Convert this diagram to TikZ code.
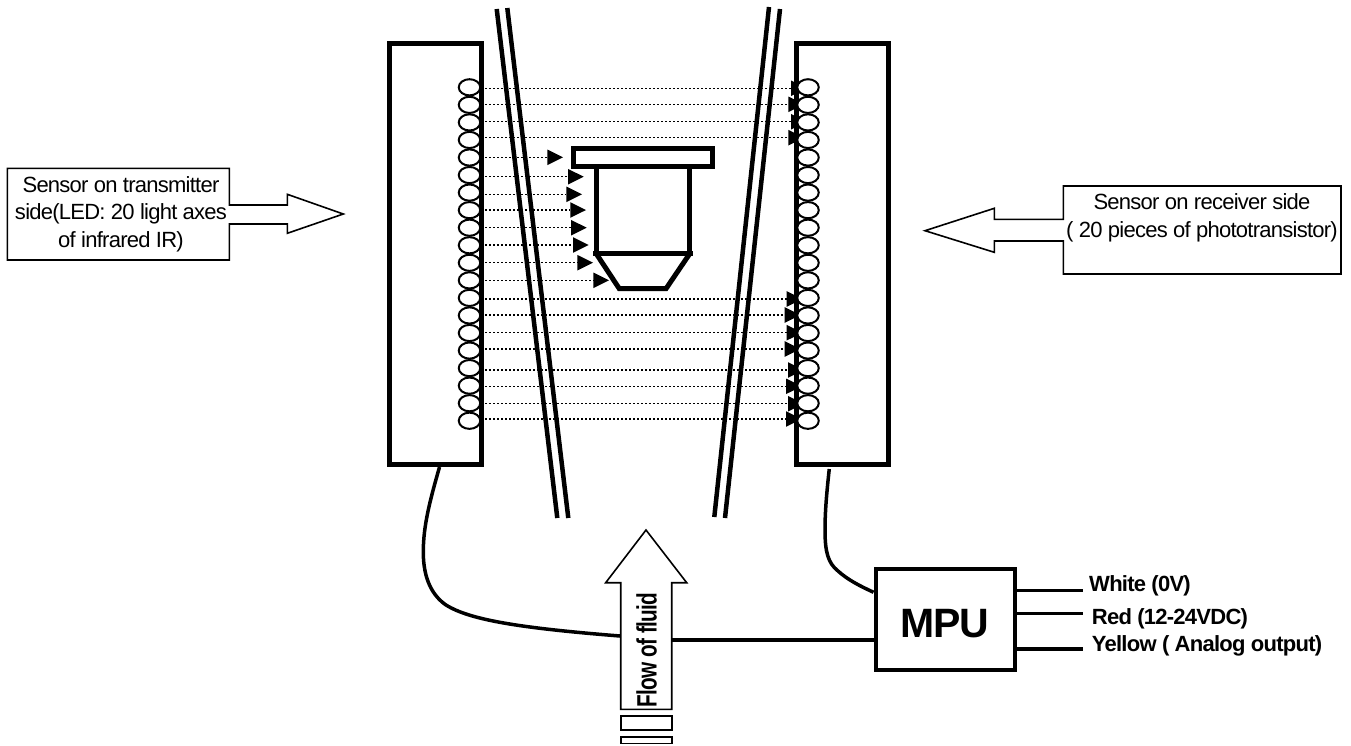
\documentclass[tikz,border=0pt]{standalone}
\usepackage{fontspec}
\setmainfont{Liberation Sans}[LetterSpace=-3.4]
\usetikzlibrary{shapes.geometric,calc}
\pgfdeclarelayer{bg}
\pgfsetlayers{bg,main}
\tikzset{
  sensorbox/.style={draw,line width=5pt,fill=white,inner sep=0pt,minimum width=92pt,minimum height=421.5pt},
  led/.style={draw,ellipse,line width=2pt,fill=white,inner sep=0pt,minimum width=21.5pt,minimum height=16.2pt},
  ray/.style={line width=1.5pt,dash pattern=on 1.5pt off 2.5pt},
  hitmark/.style={fill=black,draw=none},
  wall/.style={line width=4.5pt},
  part/.style={line width=5pt,fill=white,line join=miter},
  callout/.style={draw,line width=1.6pt,fill=white,line join=miter},
  cable/.style={line width=3.5pt},
  wire/.style={line width=3.5pt},
  plain/.style={font=\fontsize{22}{27.5}\selectfont,align=center,inner sep=0pt},
  strong/.style={font=\fontsize{22}{27.5}\selectfont\bfseries,inner sep=0pt,anchor=base west}
}
\begin{document}
\begin{tikzpicture}[x=1pt,y=-1pt]
\useasboundingbox (0,0) rectangle (1351,745);

% sensor housings and LEDs / phototransistors
\node[sensorbox] (ltx) at (435.5,253.75) {};
\node[sensorbox,minimum width=91.5pt] (rrx) at (842.25,253.75) {};
\foreach \n in {1,...,20}{
  \pgfmathsetmacro{\ly}{87.3+17.55*(\n-1)}
  \node[led] (tx\n) at (469.5,\ly) {};
  \node[led] (rx\n) at (808,\ly) {};
}

% light axes
\begin{pgfonlayer}{bg}
\foreach \yy/\bb [count=\n] in {88.3/791,104.3/788.3,121.7/791,137.7/788.3,157.3/547.3,176.7/568,194.3/566.3,210/570.3,227.7/571,245/573,262.7/577.3,280.3/593.3,299/786.7,315/784.7,332.7/786.7,349/784.7,370/788,386.3/786,403.7/788,419/786}{
  \coordinate (hit\n) at (\bb,\yy);
  \draw[ray] (tx\n.east |- hit\n) -- (hit\n);
  \fill[hitmark] ($(hit\n)+(0,-7.8)$) -- ($(hit\n)+(15.7,0)$) -- ($(hit\n)+(0,7.8)$) -- cycle;
}
% pipe walls
\draw[wall] (496.7,9) -- (557.3,518);
\draw[wall] (507.3,8) -- (568.3,518);
\draw[wall] (769,7) -- (714.3,517);
\draw[wall] (780,9) -- (725,518);
\end{pgfonlayer}

% workpiece
\draw[part] (596.7,166) -- (596.7,253.3) -- (689,253.3) -- (689,166) -- cycle;
\draw[part] (573.5,148.5) rectangle (712,166);
\draw[part] (596,253.3) -- (619.3,288.7) -- (666,288.7) -- (690,253.3);
\draw[line width=5pt] (593,253.3) -- (692.7,253.3);

% transmitter callout
\draw[callout] (7.3,168.3) -- (229.3,168.3) -- (229.3,205) -- (287.3,205) -- (287.3,194.3) -- (343.3,214) -- (287.3,233.3) -- (287.3,224) -- (229.3,224) -- (229.3,260) -- (7.3,260) -- cycle;
\node[plain] (txtext) at (121,214) {Sensor on transmitter\\side(LED: 20 light axes\\of infrared IR)};

% receiver callout
\draw[callout] (1341,186) -- (1063.3,186) -- (1063.3,219.3) -- (994.3,219.3) -- (994.3,208.3) -- (925,230.7) -- (994.3,252.3) -- (994.3,241) -- (1063.3,241) -- (1063.3,274) -- (1341,274) -- cycle;
\node[plain] (rxtext) at (1202,218) {Sensor on receiver side\\( 20 pieces of phototransistor)};

% flow arrow
\draw[callout] (646,530) -- (686.7,582.7) -- (671.7,582.7) -- (671.7,709.3) -- (620.7,709.3) -- (620.7,582.7) -- (605.7,582.7) -- cycle;
\draw[line width=1.6pt] (620.7,716) rectangle (671.7,730);
\draw[line width=1.6pt] (620.7,736.7) rectangle (671.7,743.5);
\node[font=\fontsize{28}{30}\selectfont\bfseries,rotate=90,anchor=base,inner sep=0pt] (flowtext) at (656.5,650) {\scalebox{.74}[1]{Flow of fluid}};
\coordinate (flowL) at (620,636);
\coordinate (flowR) at (671.7,640);

% MPU
\node[draw,line width=4pt,fill=white,inner sep=0pt,minimum width=139pt,minimum height=100.5pt] (mpu) at (945,619.25) {};
\node[font=\fontsize{41}{44}\selectfont\bfseries,inner sep=0pt] (mputext) at (945,624) {MPU};

% cables
\coordinate (lstart) at ($(ltx.south)+(4,0)$);
\draw[cable] (lstart) .. controls (431,497) and (423,525) .. (423.3,553) .. controls (423.5,580) and (433,596) .. (446,605) .. controls (470,620) and (520,628) .. (flowL);
\coordinate (rstart) at ($(rrx.south)+(-13,2)$);
\coordinate (mpuTop) at ($(mpu.west)+(0,-27)$);
\draw[cable] (rstart) .. controls (827,490) and (825,510) .. (825,530) .. controls (825,552) and (828,563) .. (838,571) .. controls (848,580) and (860,586) .. (mpuTop);
\draw[cable] (flowR) -- (flowR -| mpu.west);

% output wires
\node[strong] (lwhite) at (1089,591.7) {White (0V)};
\node[strong] (lred) at (1091.7,624) {Red (12-24VDC)};
\node[strong] (lyellow) at (1091.7,651.7) {Yellow ( Analog output)};
\coordinate (wwhite) at (1082.7,590.7);
\coordinate (wred) at (1082.7,613.3);
\coordinate (wyellow) at (1082.7,649);
\draw[wire] (wwhite -| mpu.east) -- (wwhite);
\draw[wire] (wred -| mpu.east) -- (wred);
\draw[wire] (wyellow -| mpu.east) -- (wyellow);
\end{tikzpicture}
\end{document}
